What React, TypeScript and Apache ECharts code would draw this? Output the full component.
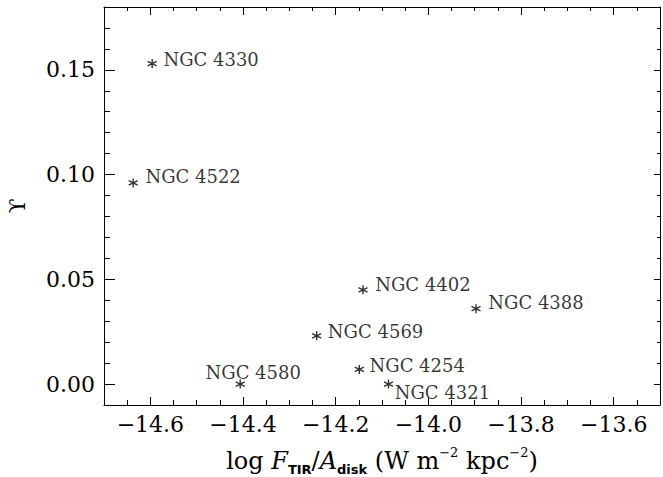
import React, { useEffect, useRef } from 'react';
import * as echarts from 'echarts';

// Galaxy sample: infrared surface brightness vs. Υ
const galaxies = ['NGC 4330', 'NGC 4522', 'NGC 4402', 'NGC 4388', 'NGC 4569', 'NGC 4254', 'NGC 4321', 'NGC 4580'];
const logFluxPerArea = [-14.596, -14.637, -14.141, -13.897, -14.241, -14.149, -14.086, -14.406];
const upsilon = [0.153, 0.096, 0.045, 0.036, 0.023, 0.007, 0.0, 0.0];

// Axis ticks
const xMajorTicks = [-14.6, -14.4, -14.2, -14.0, -13.8, -13.6];
const yMajorTicks = [0.0, 0.05, 0.10, 0.15];

const SERIF = 'DejaVu Serif';

// Where each galaxy's name sits relative to its marker
const labelPlacement: Record<string, any> = {
  'NGC 4330': { position: 'right', distance: 6, offset: [0, -4] },
  'NGC 4522': { position: 'right', distance: 7, offset: [0, -6] },
  'NGC 4402': { position: 'right', distance: 7, offset: [0, -5] },
  'NGC 4388': { position: 'right', distance: 7, offset: [0, -6] },
  'NGC 4569': { position: 'right', distance: 6, offset: [0, -4] },
  'NGC 4254': { position: 'right', distance: 5, offset: [0, -4] },
  'NGC 4321': { position: 'right', distance: 1, offset: [0, 8] },
  'NGC 4580': { position: 'inside', offset: [13, -12] },
};

// Six-armed asterisk marker
const ASTERISK = 'path://M5,0L5,10M0.67,2.5L9.33,7.5M0.67,7.5L9.33,2.5';

const fmtX = (v: number) => (v < 0 ? '\u2212' : '') + Math.abs(v).toFixed(1);
const fmtY = (v: number) => v.toFixed(2);

export default function App() {
  const ref = useRef<HTMLDivElement>(null);

  useEffect(() => {
    if (!ref.current) return;
    const chart = echarts.init(ref.current, undefined, { renderer: 'svg' });

    const line = { color: '#000', width: 1 };
    const xBase = {
      type: 'value',
      min: -14.7,
      max: -13.5,
      splitLine: { show: false },
      axisLabel: { show: false },
    };
    const yBase = {
      type: 'value',
      min: -0.01,
      max: 0.18,
      splitLine: { show: false },
      axisLabel: { show: false },
    };

    const points = galaxies.map((name, i) => ({
      name,
      value: [logFluxPerArea[i], upsilon[i]],
      label: labelPlacement[name],
    }));

    chart.setOption({
      animation: false,
      backgroundColor: '#fff',
      grid: { left: 104, right: 3, top: 7, bottom: 72, containLabel: false, outerBoundsMode: 'none' },
      xAxis: [
        {
          ...xBase,
          position: 'bottom',
          axisLine: { show: true, onZero: false, lineStyle: line },
          axisTick: { show: true, inside: true, length: 8, customValues: xMajorTicks, lineStyle: line },
          axisLabel: {
            show: true,
            customValues: xMajorTicks,
            formatter: fmtX,
            fontFamily: SERIF,
            fontSize: 22,
            color: '#000',
            margin: 8,
          },
          name: '{n|log }{i|F}{s|TIR}{n|/}{i|A}{s|disk}{n| (W m}{p|\u22122}{n| kpc}{p|\u22122}{n|)}',
          nameLocation: 'middle',
          nameGap: 41,
          nameTextStyle: {
            rich: {
              n: { fontFamily: SERIF, fontSize: 24, lineHeight: 30, color: '#000' },
              i: { fontFamily: SERIF, fontStyle: 'italic', fontSize: 24, lineHeight: 30, color: '#000' },
              s: { fontFamily: 'DejaVu Sans', fontWeight: 'bold', fontSize: 13, lineHeight: 20, verticalAlign: 'bottom', color: '#000' },
              p: { fontFamily: SERIF, fontSize: 13, lineHeight: 8, verticalAlign: 'top', color: '#000' },
            },
          },
        },
        {
          ...xBase,
          position: 'bottom',
          interval: 0.05,
          axisLine: { show: false, onZero: false },
          axisTick: { show: true, inside: true, length: 5, lineStyle: line },
        },
        {
          ...xBase,
          position: 'top',
          axisLine: { show: true, onZero: false, lineStyle: line },
          axisTick: { show: true, inside: true, length: 8, customValues: xMajorTicks, lineStyle: line },
        },
        {
          ...xBase,
          position: 'top',
          interval: 0.05,
          axisLine: { show: false, onZero: false },
          axisTick: { show: true, inside: true, length: 4, lineStyle: line },
        },
      ],
      yAxis: [
        {
          ...yBase,
          position: 'left',
          axisLine: { show: true, onZero: false, lineStyle: line },
          axisTick: { show: true, inside: true, length: 11, customValues: yMajorTicks, lineStyle: line },
          axisLabel: {
            show: true,
            customValues: yMajorTicks,
            formatter: fmtY,
            fontFamily: SERIF,
            fontSize: 22,
            color: '#000',
            margin: 9,
          },
          name: '\u03D2',
          nameLocation: 'middle',
          nameGap: 76,
          nameTextStyle: { fontFamily: SERIF, fontSize: 22, color: '#000' },
        },
        {
          ...yBase,
          position: 'left',
          interval: 0.01,
          axisLine: { show: false, onZero: false },
          axisTick: { show: true, inside: true, length: 6, lineStyle: line },
        },
        {
          ...yBase,
          position: 'right',
          axisLine: { show: true, onZero: false, lineStyle: line },
          axisTick: { show: true, inside: true, length: 6, customValues: yMajorTicks, lineStyle: line },
        },
        {
          ...yBase,
          position: 'right',
          interval: 0.01,
          axisLine: { show: false, onZero: false },
          axisTick: { show: true, inside: true, length: 3, lineStyle: line },
        },
      ],
      series: [
        {
          type: 'scatter',
          xAxisIndex: 0,
          yAxisIndex: 0,
          symbol: ASTERISK,
          symbolSize: [9, 9],
          itemStyle: { color: 'rgba(0,0,0,0)', borderColor: '#000', borderWidth: 1.4 },
          label: {
            show: true,
            formatter: '{b}',
            fontFamily: SERIF,
            fontSize: 18,
            color: '#000',
          },
          emphasis: { disabled: true },
          data: points,
        },
      ],
    });

    return () => chart.dispose();
  }, []);

  return (
    <div
      ref={ref}
      style={{ position: 'fixed', left: 0, top: 0, width: 663, height: 477, background: '#fff' }}
    />
  );
}
